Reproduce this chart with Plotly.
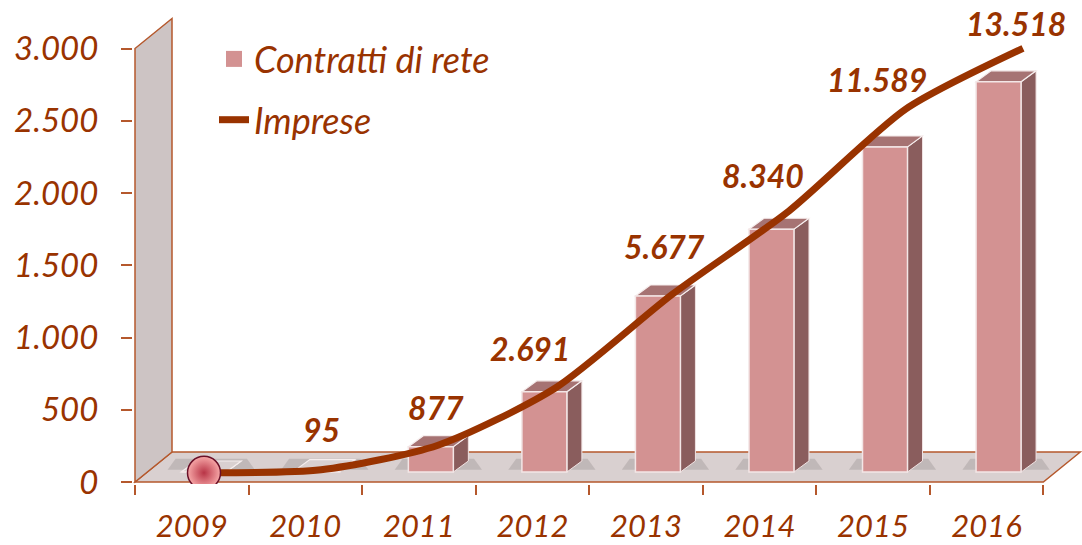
import plotly.graph_objects as go

# ---------------- data ----------------
years = ["2009", "2010", "2011", "2012", "2013", "2014", "2015", "2016"]
contratti = [0, 10, 175, 555, 1218, 1680, 2250, 2700]
imprese = [0, 95, 877, 2691, 5677, 8340, 11589, 13518]
y_tick_vals = [0, 500, 1000, 1500, 2000, 2500, 3000]

# ---------------- style ----------------
BROWN = "#993300"
EDGE = "#b5582c"
BAR_FRONT = "#d39292"
BAR_SIDE = "#8a5d5d"
BAR_TOP = "#a67373"
FLOOR = "#d9d0d0"
WALL = "#cdc4c4"
FONT = "Lato"

W, H = 1082, 545
L, R, T, B = 133, 1082, 10, 484          # plot area (px)
X_ZERO_PX, PX_CAT = 135, 113.54          # x of first category boundary, px per category
Y_ZERO_PX, PX_UNIT = 482, 0.1445         # primary y: px of 0, px per unit
X2_ZERO_PX, PX_CAT2 = 204, 117.0         # line axis
Y2_ZERO_PX, PX_UNIT2 = 472.8, 0.0314

x_range = [-0.5 - (X_ZERO_PX - L) / PX_CAT, -0.5 + (R - X_ZERO_PX) / PX_CAT]
y_range = [-(B - Y_ZERO_PX) / PX_UNIT, (Y_ZERO_PX - T) / PX_UNIT]
x2_range = [-(X2_ZERO_PX - L) / PX_CAT2, (R - X2_ZERO_PX) / PX_CAT2]
y2_range = [-(B - Y2_ZERO_PX) / PX_UNIT2, (Y2_ZERO_PX - T) / PX_UNIT2]

FLOOR_DX = 37 / PX_CAT        # depth of floor in x units
FLOOR_DY = 30 / PX_UNIT       # depth of floor in y units
BAR_BASE = 10 / PX_UNIT       # bars stand a third into the floor
BAR_SHIFT = 12 / PX_CAT
BAR_W = 45 / PX_CAT
BAR_DX = 15 / PX_CAT
BAR_DY = 11 / PX_UNIT

LABEL_DX = [0, 0, -2, -25, -8, -26, -29, -7]
LABEL_DY = [0, 40, 38, 40, 48, 35, 29, 25]

idx = list(range(len(years)))
bar_x = [i + BAR_SHIFT for i in idx]

shapes = []
n = len(years)
# floor
shapes.append(dict(
    type="path", xref="x", yref="y", layer="below",
    path=(f"M {-0.5},0 L {n - 0.5},0 L {n - 0.5 + FLOOR_DX},{FLOOR_DY} "
          f"L {-0.5 + FLOOR_DX},{FLOOR_DY} Z"),
    fillcolor=FLOOR, line=dict(color=EDGE, width=1.5)))
# left wall
top_val = y_tick_vals[-1]
shapes.append(dict(
    type="path", xref="x", yref="y", layer="below",
    path=(f"M -0.5,0 L -0.5,{top_val} L {-0.5 + FLOOR_DX},{top_val + FLOOR_DY} "
          f"L {-0.5 + FLOOR_DX},{FLOOR_DY} Z"),
    fillcolor=WALL, line=dict(color=EDGE, width=1.5)))
# bar side and top faces (3D effect)
for xc, v in zip(bar_x, contratti):
    xl, xr = xc - BAR_W / 2, xc + BAR_W / 2
    y0, y1 = BAR_BASE, BAR_BASE + v
    flat = v < 50
    shapes.append(dict(
        type="path", xref="x", yref="y", layer="below",
        path=(f"M {xl - 0.12},{y0 + BAR_DY * 0.2} L {xr + BAR_DX + 0.12},{y0 + BAR_DY * 0.2} "
              f"L {xr + BAR_DX + 0.05},{y0 + BAR_DY * 1.2} L {xl - 0.05},{y0 + BAR_DY * 1.2} Z"),
        fillcolor="rgba(120,110,110,0.25)", line=dict(width=0)))
    shapes.append(dict(
        type="path", xref="x", yref="y", layer="below",
        path=(f"M {xr},{y0} L {xr},{y1} L {xr + BAR_DX},{y1 + BAR_DY} "
              f"L {xr + BAR_DX},{y0 + BAR_DY} Z"),
        fillcolor=BAR_SIDE, line=dict(color="#f0e2e2", width=1)))
    shapes.append(dict(
        type="path", xref="x", yref="y", layer="below",
        path=(f"M {xl},{y1} L {xr},{y1} L {xr + BAR_DX},{y1 + BAR_DY} "
              f"L {xl + BAR_DX},{y1 + BAR_DY} Z"),
        fillcolor=FLOOR if flat else BAR_TOP, line=dict(color="#f6eeee", width=1.2)))

fig = go.Figure()

fig.add_trace(go.Bar(
    x=bar_x, y=contratti, base=BAR_BASE, width=BAR_W,
    marker=dict(color=BAR_FRONT, line=dict(color="#f3e6e6", width=1.5)),
    name="Contratti di rete", showlegend=False, xaxis="x", yaxis="y"))

# legend-only entry for the bars (square symbol)
fig.add_trace(go.Scatter(
    x=[None], y=[None], mode="markers", name="Contratti di rete",
    marker=dict(symbol="square", size=18, color=BAR_FRONT),
    legendgroup="a", xaxis="x", yaxis="y"))

fig.add_trace(go.Scatter(
    x=idx, y=imprese, mode="lines", name="Imprese",
    line=dict(color=BROWN, width=7, shape="spline", smoothing=0.7),
    legendgroup="b", xaxis="x2", yaxis="y2"))

fig.add_trace(go.Scatter(
    x=[idx[0]], y=[imprese[0]], mode="markers", showlegend=False,
    marker=dict(size=33, color="#f7a8a8",
                gradient=dict(type="radial", color="#b83446"),
                line=dict(color="#6a1028", width=1.5)),
    xaxis="x2", yaxis="y2"))

annotations = []
for i, v in enumerate(imprese):
    if v <= 0:
        continue
    annotations.append(dict(
        x=i, y=v, xref="x2", yref="y2", showarrow=False,
        text=f"{v:,}".replace(",", "."),
        xshift=LABEL_DX[i], yshift=LABEL_DY[i],
        font=dict(family=FONT, size=32, color=BROWN, weight="bold", style="italic")))

xtickfont = dict(family=FONT, size=31, color=BROWN, style="italic")
ytickfont = dict(family=FONT, size=33, color=BROWN, style="italic")

fig.update_layout(
    width=W, height=H,
    margin=dict(l=L, r=W - R, t=T, b=H - B, pad=0, autoexpand=False),
    paper_bgcolor="white", plot_bgcolor="white",
    separators=",.",
    showlegend=True,
    legend=dict(
        xref="paper", yref="paper",
        x=(214 - L) / (R - L), y=(B - 29) / (B - T), xanchor="left", yanchor="top",
        bgcolor="rgba(0,0,0,0)", font=dict(family=FONT, size=36, color=BROWN, style="italic"),
        tracegroupgap=11, traceorder="grouped"),
    xaxis=dict(
        range=x_range, showgrid=False, zeroline=False, showline=False, automargin=False,
        tickmode="array", tickvals=idx, ticktext=years, ticks="", tickangle=0,
        tickfont=xtickfont, ticklabelstandoff=21,
        minor=dict(tickmode="array", tickvals=[i - 0.5 for i in range(n + 1)],
                   ticks="outside", ticklen=10, tickwidth=1.5, tickcolor=EDGE, showgrid=False)),
    yaxis=dict(
        range=y_range, showgrid=False, zeroline=False, showline=False, automargin=False,
        tickmode="array", tickvals=y_tick_vals, tickformat=",d",
        ticks="outside", ticklen=11, tickwidth=1.5, tickcolor=EDGE,
        tickfont=ytickfont, ticklabelstandoff=16),
    xaxis2=dict(range=x2_range, overlaying="x", visible=False),
    yaxis2=dict(range=y2_range, overlaying="y", visible=False),
    shapes=shapes, annotations=annotations,
)

fig.write_html("out.html", config={"displayModeBar": False},
               post_script="document.body.style.margin='0';document.body.style.overflow='hidden';")
